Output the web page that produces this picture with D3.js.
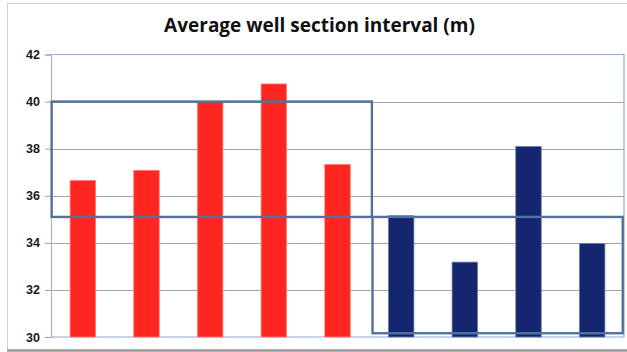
<!DOCTYPE html>
<html>
<head>
<meta charset="utf-8">
<script src="https://cdnjs.cloudflare.com/ajax/libs/d3/7.8.5/d3.min.js"></script>
<style>
  html, body { margin: 0; padding: 0; background: #ffffff; }
  svg { display: block; }
</style>
</head>
<body>
<script>
// Average well section interval per well, two groups
const categories = ["W1", "W2", "W3", "W4", "W5", "W6", "W7", "W8", "W9"];
const redValues = [36.65, 37.08, 40.0, 40.75, 37.33];
const blueValues = [35.15, 33.18, 38.09, 33.97];
const yTicks = [30, 32, 34, 36, 38, 40, 42];
const titleText = "Average well section interval (m)";
// Group outlines: category span (in bands) and value span
const groupBoxes = [
  { from: 0.01, to: 5.04, low: 35.1, high: 40.0 },
  { from: 5.05, to: 8.98, low: 30.16, high: 35.1 }
];

const W = 627, H = 352;
const plot = { left: 51, right: 624, top: 54.5, bottom: 337 };

const svg = d3.select("body").append("svg")
  .attr("width", W).attr("height", H);

// Outer chart frame
svg.append("line").attr("x1", 7.5).attr("x2", 7.5).attr("y1", 3).attr("y2", 350)
  .attr("stroke", "#cfcfcf").attr("stroke-width", 1);
svg.append("line").attr("x1", 7).attr("x2", W).attr("y1", 3.5).attr("y2", 3.5)
  .attr("stroke", "#cfcfcf").attr("stroke-width", 1);
svg.append("line").attr("x1", 7).attr("x2", W).attr("y1", 350.5).attr("y2", 350.5)
  .attr("stroke", "#9a9a9a").attr("stroke-width", 2.5);

const x = d3.scaleBand()
  .domain(categories)
  .range([plot.left, plot.right])
  .paddingInner(0.6)
  .paddingOuter(0.3);

const y = d3.scaleLinear()
  .domain([30, 42])
  .range([plot.bottom, plot.top]);

const data = categories.map((c, i) => ({
  cat: c,
  value: i < redValues.length ? redValues[i] : blueValues[i - redValues.length],
  group: i < redValues.length ? "red" : "blue"
}));

// Horizontal gridlines
svg.append("g")
  .selectAll("line")
  .data(yTicks.filter(t => t > 30 && t < 42))
  .join("line")
  .attr("x1", plot.left).attr("x2", plot.right)
  .attr("y1", d => Math.round(y(d)) + 0.5).attr("y2", d => Math.round(y(d)) + 0.5)
  .attr("stroke", "#a3a3a3").attr("stroke-width", 1);

// Plot area border (top, right, bottom)
svg.append("path")
  .attr("d", `M${plot.left},${plot.top}H${plot.right}V${plot.bottom}H${plot.left}`)
  .attr("fill", "none").attr("stroke", "#8eaad6").attr("stroke-width", 1.2);

// Y axis
const yAxis = d3.axisLeft(y)
  .tickValues(yTicks)
  .tickSize(6)
  .tickPadding(5)
  .tickFormat(d3.format("d"));

const gy = svg.append("g")
  .attr("transform", `translate(${plot.left},0)`)
  .call(yAxis);
gy.select(".domain").attr("stroke", "#b3b3b3").attr("stroke-width", 1.2);
gy.selectAll(".tick line").attr("stroke", "#a0a0a0");
gy.selectAll(".tick text")
  .attr("fill", "#1a1a1a")
  .style("font-family", "'Liberation Sans', Arial, sans-serif")
  .style("font-weight", "bold")
  .style("font-size", "12.5px");

// Bars
const colors = { red: "#ff2620", blue: "#13266f" };
const edges = { red: "#ff7d76", blue: "#6b7bb0" };
svg.append("g")
  .selectAll("rect")
  .data(data)
  .join("rect")
  .attr("x", d => x(d.cat))
  .attr("width", x.bandwidth())
  .attr("y", d => y(d.value))
  .attr("height", d => y(30) - y(d.value))
  .attr("fill", d => colors[d.group])
  .attr("stroke", d => edges[d.group])
  .attr("stroke-width", 0.8);

// Group outlines drawn over the bars
svg.append("g")
  .selectAll("rect")
  .data(groupBoxes)
  .join("rect")
  .attr("x", d => plot.left + d.from * x.step())
  .attr("width", d => (d.to - d.from) * x.step())
  .attr("y", d => y(d.high))
  .attr("height", d => y(d.low) - y(d.high))
  .attr("fill", "none")
  .attr("stroke", "#52719c")
  .attr("stroke-width", 2.4);

// Title
svg.append("text")
  .attr("x", 319.5)
  .attr("y", 32)
  .attr("text-anchor", "middle")
  .style("font-family", "'Open Sans', 'Liberation Sans', sans-serif")
  .style("font-weight", "bold")
  .style("font-size", "19px")
  .attr("fill", "#111")
  .text(titleText);
</script>
</body>
</html>
